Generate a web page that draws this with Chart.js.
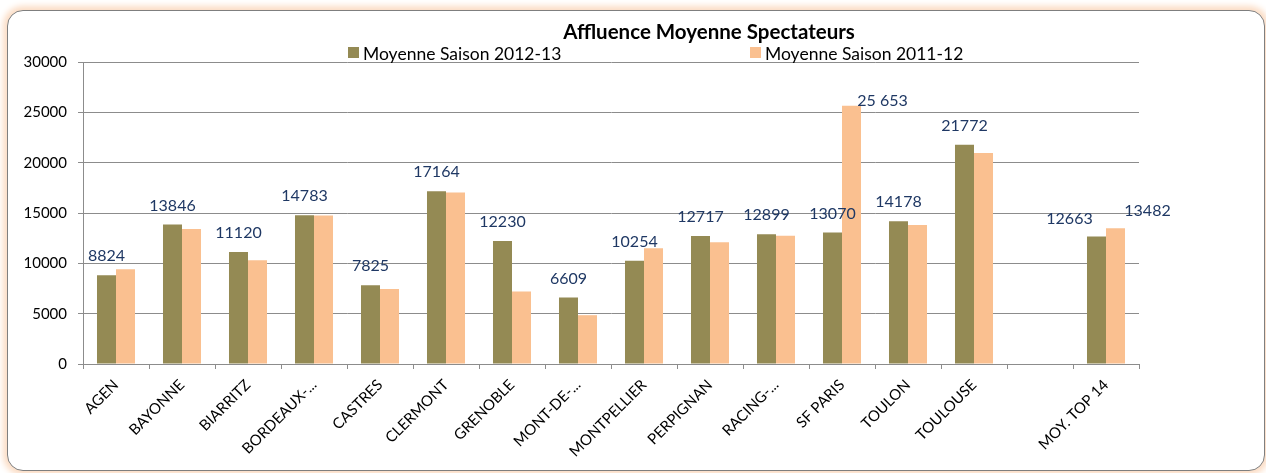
<!DOCTYPE html>
<html>
<head>
<meta charset="utf-8">
<script src="https://cdn.jsdelivr.net/npm/chart.js@4.4.0/dist/chart.umd.min.js"></script>
<style>
html,body{margin:0;padding:0;background:#fff;}
#wrap{position:relative;width:1266px;height:473px;overflow:hidden;}
#frame{position:absolute;left:7px;top:10px;width:1256px;height:459px;border:1.5px solid #7f7f7f;border-radius:16px;box-shadow:0 0 6px 4px #fbdcc4;background:#fff;}
canvas{position:absolute;left:0;top:0;}
</style>
</head>
<body>
<div id="wrap">
<div id="frame"></div>
<canvas id="c" width="1266" height="473"></canvas>
</div>
<script>
const categories = ['AGEN','BAYONNE','BIARRITZ','BORDEAUX-...','CASTRES','CLERMONT','GRENOBLE','MONT-DE-...','MONTPELLIER','PERPIGNAN','RACING-...','SF PARIS','TOULON','TOULOUSE','','MOY. TOP 14'];
const saison2012 = [8824,13846,11120,14783,7825,17164,12230,6609,10254,12717,12899,13070,14178,21772,null,12663];
const saison2011 = [9400,13400,10300,14750,7450,17030,7200,4850,11500,12100,12750,25653,13800,20950,null,13482];
const yTicks = [0,5000,10000,15000,20000,25000,30000];
const seriesNames = ['Moyenne Saison 2012-13','Moyenne Saison 2011-12'];
const chartTitle = 'Affluence Moyenne Spectateurs';
// which 2011-12 values carry a data label
const labelled2011 = ['SF PARIS','MOY. TOP 14'];

const FONT = 'Lato, "Open Sans", sans-serif';
const COLORS = ['#948A54','#FAC090'];
const LABEL_COLOR = '#1F3864';

function fmt(v, cat, ds){
  if(ds===1 && cat==='SF PARIS'){
    return String(v).replace(/\B(?=(\d{3})+(?!\d))/g,' ');
  }
  return String(v);
}

const overlay = {
  id:'overlay',
  afterDatasetsDraw(chart){
    const ctx = chart.ctx;
    ctx.save();
    ctx.fillStyle = LABEL_COLOR;
    ctx.font = '16px ' + FONT;
    ctx.textAlign = 'center';
    ctx.textBaseline = 'middle';
    chart.data.datasets.forEach((ds, di)=>{
      const meta = chart.getDatasetMeta(di);
      meta.data.forEach((bar, i)=>{
        const v = ds.data[i];
        if(v===null || v===undefined) return;
        const cat = categories[i];
        if(di===1 && labelled2011.indexOf(cat)<0) return;
        let dx = 0, dy = -19;
        if(di===1 && cat==='SF PARIS'){dx = 31; dy = -5;}
        else if(di===1){dx = 32; dy = -17;}
        else if(cat==='MOY. TOP 14'){dx = -27; dy = -18;}
        ctx.fillText(fmt(v,cat,di), bar.x+dx, bar.y+dy);
      });
    });
    ctx.restore();
  },
  afterDraw(chart){
    const ctx = chart.ctx;
    ctx.save();
    ctx.fillStyle = '#000';
    ctx.font = 'bold 20.5px ' + FONT;
    ctx.textAlign = 'center';
    ctx.textBaseline = 'middle';
    ctx.fillText(chartTitle, 709, 32);
    ctx.font = '17.5px ' + FONT;
    ctx.textAlign = 'left';
    ctx.textBaseline = 'alphabetic';
    const lx = [348, 750];
    seriesNames.forEach((n, k)=>{
      ctx.fillStyle = COLORS[k];
      ctx.fillRect(lx[k], 47, 11, 11);
      ctx.fillStyle = '#000';
      ctx.fillText(n, lx[k]+15, 60);
    });
    ctx.restore();
  }
};

new Chart(document.getElementById('c'), {
  type:'bar',
  data:{
    labels: categories,
    datasets: seriesNames.map((n,k)=>({
      label:n,
      data: k===0 ? saison2012 : saison2011,
      backgroundColor: COLORS[k],
      borderWidth:0,
      categoryPercentage:0.576,
      barPercentage:1.0
    }))
  },
  options:{
    responsive:false,
    animation:false,
    devicePixelRatio:1,
    layout:{padding:{top:62,right:127,left:0,bottom:0}},
    plugins:{legend:{display:false},title:{display:false},tooltip:{enabled:false}},
    scales:{
      x:{
        grid:{display:true,drawOnChartArea:false,drawTicks:true,tickLength:5,color:'#8c8c8c',offset:true},
        border:{display:true,color:'#8c8c8c',width:1},
        ticks:{color:'#000',font:{family:FONT,size:15},minRotation:45,maxRotation:45,padding:7,autoSkip:false},
        afterFit(s){s.height = 109;}
      },
      y:{
        min:0,max:30000,
        afterBuildTicks(s){s.ticks = yTicks.map(v=>({value:v}));},
        grid:{color:'#8c8c8c',lineWidth:1,tickLength:5,drawTicks:true},
        border:{display:true,color:'#8c8c8c',width:1},
        ticks:{color:'#000',font:{family:FONT,size:15},padding:11,callback:v=>String(v)},
        afterFit(s){s.width = 83;}
      }
    }
  },
  plugins:[overlay]
});
</script>
</body>
</html>
